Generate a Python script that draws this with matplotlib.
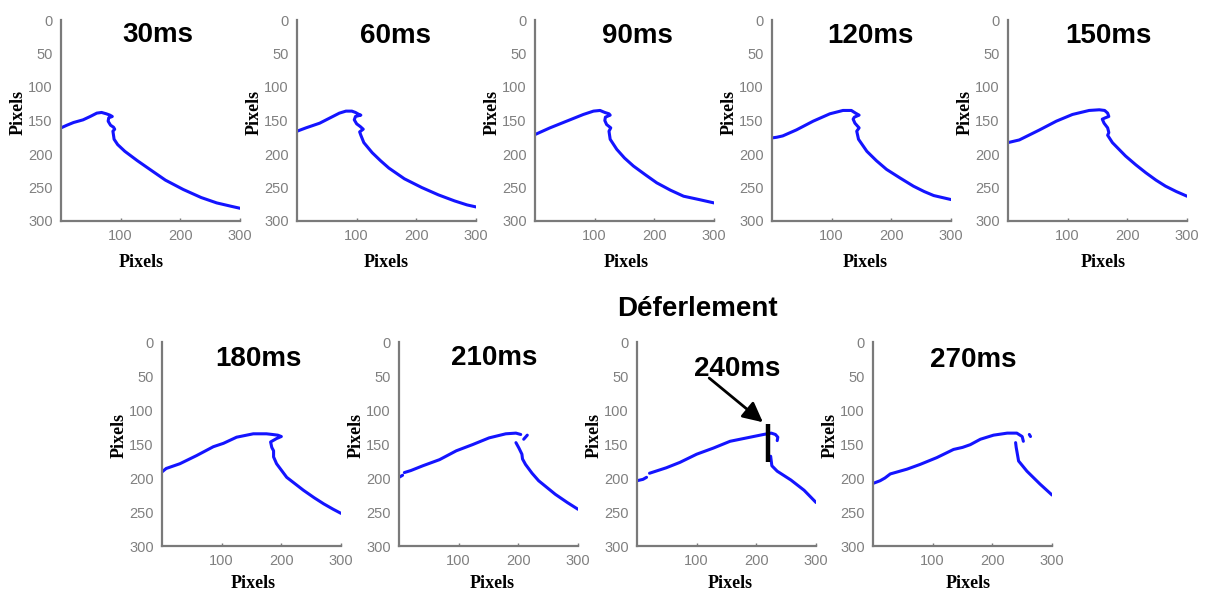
import numpy as np
import matplotlib
matplotlib.use("Agg")
import matplotlib.pyplot as plt

nan = np.nan

# ---- data (pixels, y measured downward) ----
TITLES = ["30ms", "60ms", "90ms", "120ms", "150ms", "180ms", "210ms", "240ms", "270ms"]

X_30 = [0, 10, 21, 37, 49, 60, 68, 76, 82, 86, 80, 79, 83, 88, 90, 87, 89, 95, 107, 128, 149, 175, 205, 235, 261, 285, 300]
Y_30 = [161, 157, 153, 149, 144, 139, 138, 140, 142, 144, 146, 151, 157, 160, 163, 166, 178, 186, 196, 210, 223, 239, 253, 265, 273, 278, 281]

X_60 = [0, 15, 38, 60, 71, 82, 92, 98, 104, 107, 98, 96, 100, 106, 111, 105, 107, 112, 126, 140, 154, 180, 209, 237, 264, 285, 300]
Y_60 = [166, 161, 154, 144, 139, 136, 136, 138, 141, 142, 144, 149, 155, 159, 163, 167, 172, 183, 198, 210, 221, 237, 250, 261, 270, 276, 279]

X_90 = [0, 25, 53, 81, 98, 109, 117, 124, 126, 118, 117, 120, 127, 124, 126, 137, 150, 165, 185, 204, 227, 249, 275, 300]
Y_90 = [171, 161, 151, 141, 136, 135, 138, 140, 142, 145, 150, 156, 161, 166, 178, 193, 206, 218, 231, 243, 254, 263, 268, 273]

X_120 = [0, 8, 18, 41, 69, 97, 119, 133, 140, 146, 138, 136, 139, 146, 142, 145, 159, 175, 192, 215, 237, 255, 271, 300]
Y_120 = [176, 175, 173, 164, 151, 140, 135, 135, 139, 142, 145, 148, 154, 161, 166, 178, 196, 210, 223, 236, 248, 256, 262, 268]

X_150 = [0, 19, 53, 81, 108, 136, 153, 162, 167, 169, 163, 158, 161, 167, 169, 167, 175, 197, 214, 231, 248, 264, 282, 300]
Y_150 = [183, 179, 164, 151, 141, 135, 134, 135, 139, 144, 146, 148, 154, 161, 168, 172, 183, 203, 216, 228, 239, 248, 256, 263]

X_180 = [0, 7, 30, 58, 86, 103, 125, 153, 175, 185, 194, 200, 192, 182, 184, 187, 187, 192, 209, 237, 255, 271, 287, 300]
Y_180 = [191, 186, 179, 167, 154, 149, 140, 135, 135, 136, 137, 139, 142, 147, 155, 160, 169, 179, 199, 218, 229, 238, 246, 252]

X_210 = [0, 6, nan, 9, 20, 40, 68, 96, 123, 151, 179, 196, 204, nan, 209, 215, nan, 196, 201, 206, 207, 212, 223, 234, 262, 282, 300]
Y_210 = [199, 196, nan, 192, 189, 182, 173, 160, 151, 141, 135, 134, 136, nan, 143, 137, nan, 148, 156, 165, 172, 180, 193, 204, 224, 236, 246]

X_240 = [0, 10, 16, nan, 21, 35, 49, 72, 100, 128, 156, 184, 212, 225, 232, 236, 235, nan, 224, 226, 235, 258, 280, 300]
Y_240 = [204, 202, 199, nan, 193, 189, 185, 177, 165, 156, 146, 141, 136, 134, 136, 140, 145, nan, 168, 182, 190, 203, 218, 236]

X_270 = [0, 12, 20, 29, 57, 79, 107, 135, 150, 163, 180, 202, 225, 241, 250, 252, nan, 262, 264, nan, 239, 240, 241, 244, 258, 280, 300]
Y_270 = [208, 204, 200, 194, 187, 180, 170, 158, 155, 151, 143, 137, 134, 134, 139, 146, nan, 136, 139, nan, 148, 155, 160, 175, 190, 209, 225]

SERIES_X = [X_30, X_60, X_90, X_120, X_150, X_180, X_210, X_240, X_270]
SERIES_Y = [Y_30, Y_60, Y_90, Y_120, Y_150, Y_180, Y_210, Y_240, Y_270]

Y_TICKS = [0, 50, 100, 150, 200, 250, 300]
X_TICKS = [100, 200, 300]

# breaking marker in the 240ms panel
MARK_X = [220, 220]
MARK_Y = [120, 177]
ARROW_FROM = (121, 53)
ARROW_TO = (211, 118)

# ---- layout (pixels) ----
W, H = 1209, 592
fig = plt.figure(figsize=(W / 100, H / 100), dpi=100)

top_lefts = [61, 297, 535, 772, 1008]
bot_lefts = [162, 399, 637, 873]
AX_W = 179
boxes = [(l, 20, 221) for l in top_lefts] + [(l, 342, 546) for l in bot_lefts]

title_pos = [(0.54, 0.925), (0.55, 0.92), (0.57, 0.92), (0.55, 0.92), (0.56, 0.92),
             (0.54, 0.917), (0.53, 0.92), (0.56, 0.87), (0.56, 0.91)]
xlabel_x = [0.45, 0.50, 0.51, 0.52, 0.53, 0.51, 0.52, 0.52, 0.53]
xlabel_y = [-0.165] * 5 + [-0.14] * 4

GRAY = "#808080"
BLUE = "#1414ff"

for i, (l, t, b) in enumerate(boxes):
    ax = fig.add_axes([l / W, 1 - b / H, AX_W / W, (b - t) / H])
    ax.plot(SERIES_X[i], SERIES_Y[i], color=BLUE, lw=2.2, solid_capstyle="round")
    ax.set_xlim(0, 300)
    ax.set_ylim(300, 0)
    for s in ["top", "right"]:
        ax.spines[s].set_visible(False)
    for s in ["left", "bottom"]:
        ax.spines[s].set_color("#7a7a7a")
        ax.spines[s].set_linewidth(1.6)
    ax.set_yticks(Y_TICKS)
    ax.set_xticks(X_TICKS)
    ax.tick_params(axis="y", length=0, pad=6, labelsize=10.5, labelcolor=GRAY)
    ax.tick_params(axis="x", length=2, direction="in", width=1, color="#7a7a7a",
                   pad=6, labelsize=10.5, labelcolor=GRAY)
    for lab in ax.get_xticklabels() + ax.get_yticklabels():
        lab.set_family("Liberation Sans")
    ax.set_xlabel("Pixels", family="Liberation Serif", weight="bold", fontsize=13)
    ax.xaxis.set_label_coords(xlabel_x[i], xlabel_y[i])
    ax.set_ylabel("Pixels", family="Liberation Serif", weight="bold", fontsize=13)
    ax.yaxis.set_label_coords(-0.19, 0.54)
    tx, ty = title_pos[i]
    ax.text(tx, ty, TITLES[i], transform=ax.transAxes, ha="center", va="center",
            fontsize=20, weight="bold", family="Liberation Sans")
    if TITLES[i] == "240ms":
        ax.plot(MARK_X, MARK_Y, color="black", lw=3.2, solid_capstyle="butt")
        ax.annotate("", xy=ARROW_TO, xytext=ARROW_FROM,
                    arrowprops=dict(arrowstyle="-|>", color="black", lw=2,
                                    mutation_scale=30, shrinkA=0, shrinkB=0))

fig.text(697 / W, 1 - 309 / H, "Déferlement", ha="center", va="center",
         fontsize=20, weight="bold", family="Liberation Sans")

fig.savefig("out.png", dpi=100, facecolor="white")
